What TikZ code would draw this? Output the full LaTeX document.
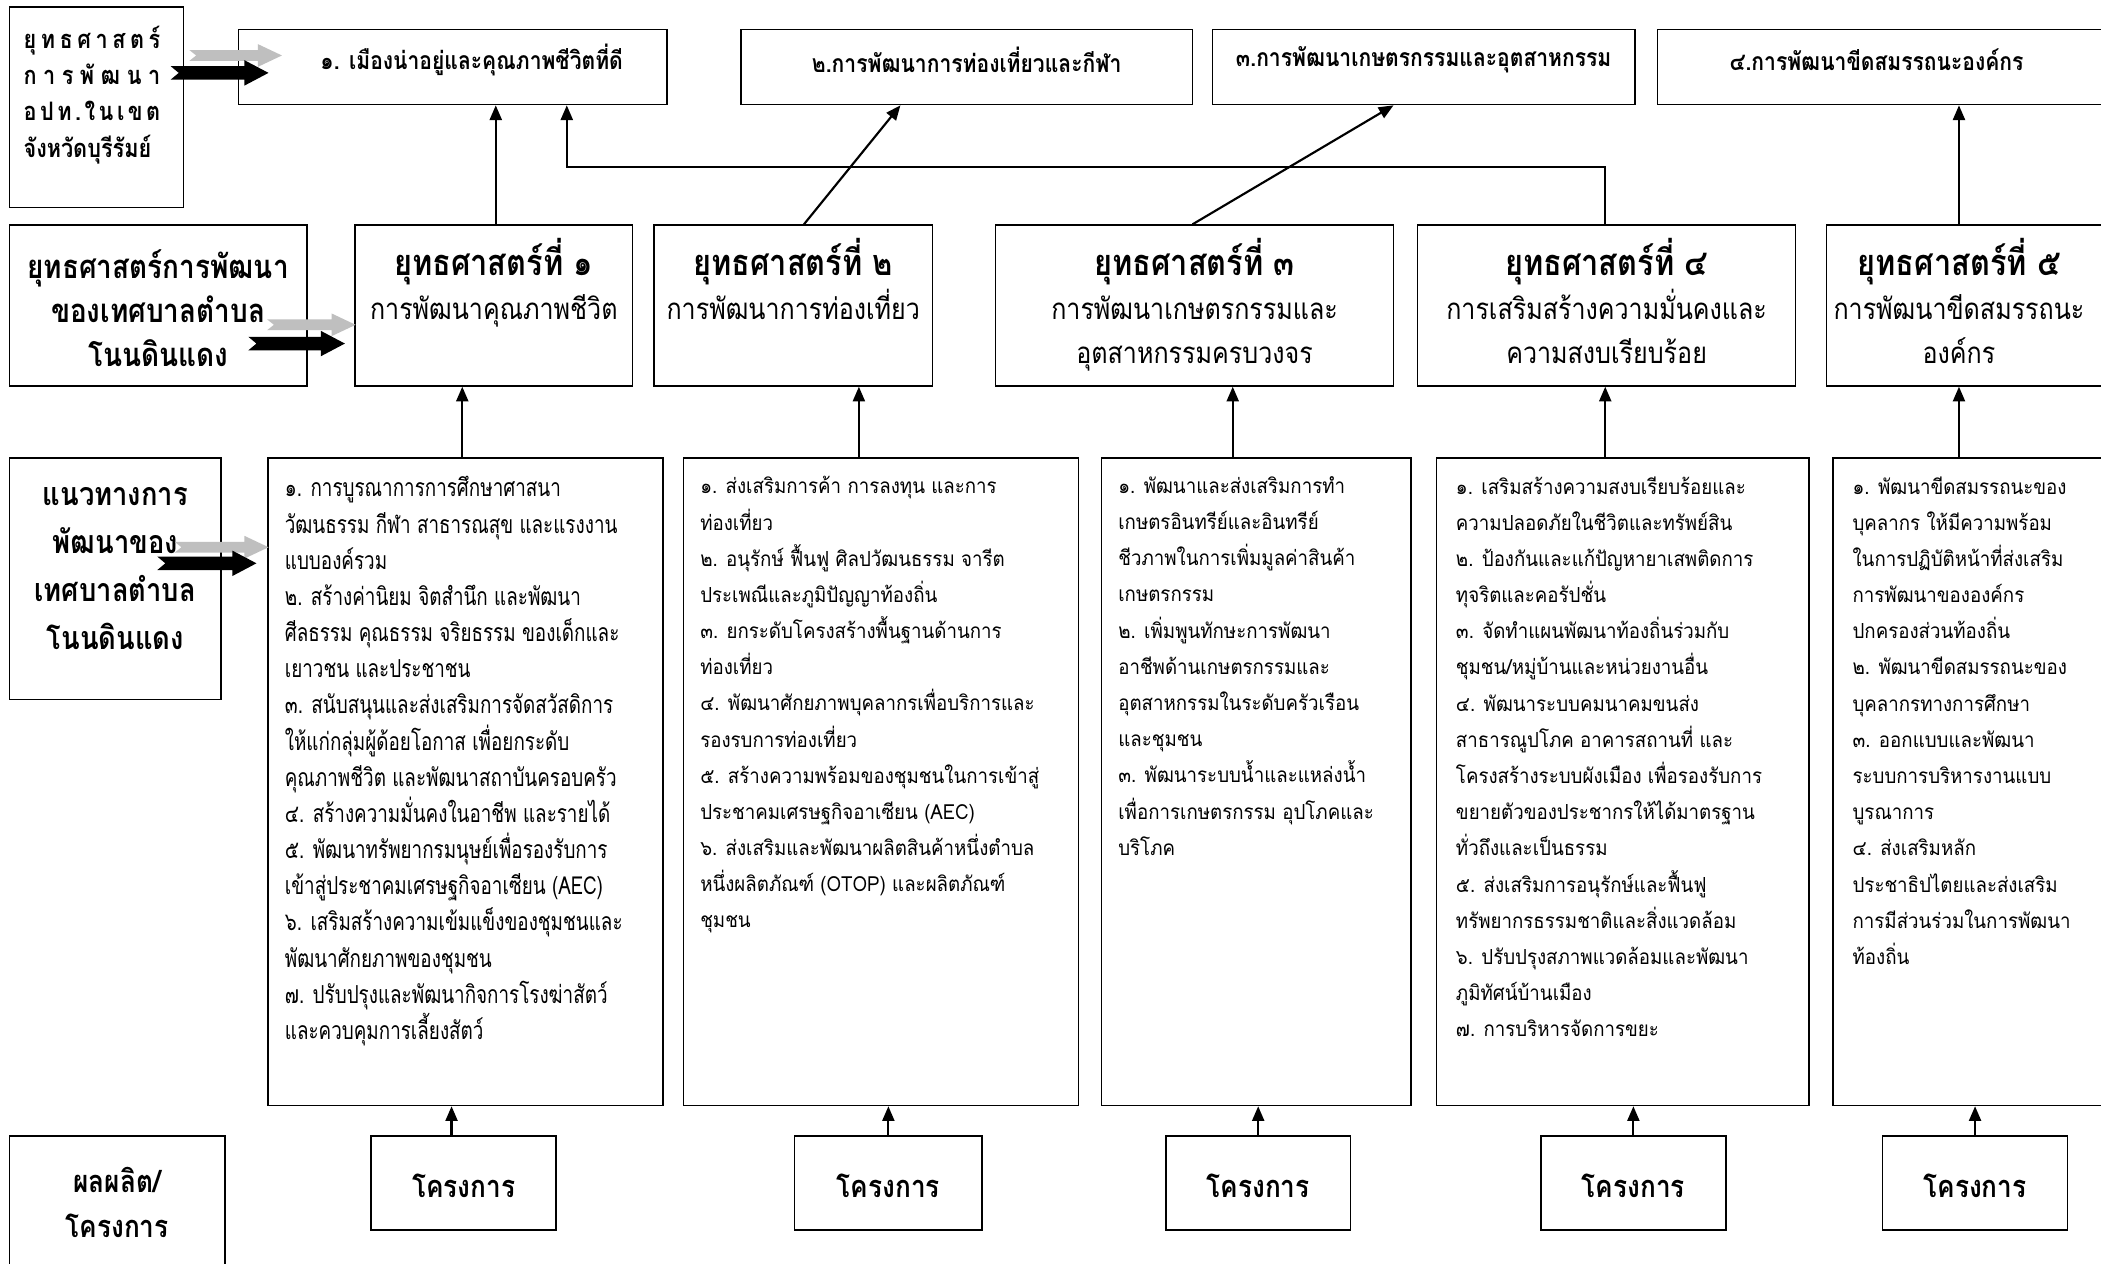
\documentclass[tikz,border=0pt]{standalone}
\usepackage{fontspec}
\usetikzlibrary{arrows.meta,calc}
\newfontfamily\thr[Script=Thai,FakeStretch=0.9]{Loma}
\newfontfamily\thc[Script=Thai,FakeStretch=0.85]{Loma}
\newfontfamily\thn[Script=Thai,FakeStretch=0.76]{Loma}
\definecolor{arrowgray}{RGB}{191,191,191}
\tikzset{
  box/.style={draw, line width=1.2pt, inner sep=0pt},
  conn/.style={line width=1.6pt, -{Triangle[length=11pt,width=9pt]}},
  txt/.style={inner sep=0pt},
  listtxt/.style={txt, anchor=north west, align=left, font={\thr\fontsize{15.5}{27}\selectfont}},
  stitle/.style={txt, anchor=north, align=center, font={\thc\fontsize{22}{33}\selectfont}},
  goaltxt/.style={txt, font={\thc\bfseries\fontsize{18.5}{22}\selectfont}},
  projtxt/.style={txt, font={\thc\bfseries\fontsize{23}{30}\selectfont}},
}
\newcommand{\boxnode}[5]{\node[box, minimum width={#4-#2}, minimum height={#5-#3}] (#1) at ({(#2+#4)/2},{(#3+#5)/2}) {};}
\newcommand{\blockarrow}[7]{%
  \fill[#1] #2 -- ++(-#6,-#5) -- ++(0,{#5-#4}) -- ++({#6-#3},0) -- ++(#7,#4) -- ++(-#7,#4) -- ++({#3-#6},0) -- ++(0,{#5-#4}) -- cycle;}
\newcommand{\sttl}[1]{{\bfseries\fontsize{27}{33}\selectfont #1}}
\begin{document}
\begin{tikzpicture}[x=1pt,y=-1pt]
\useasboundingbox (0,0) rectangle (1568,943);
\fill[white] (0,0) rectangle (1568,943);

% boxes
\boxnode{A1}{7}{5}{137}{155}
\boxnode{G1}{178}{22}{498}{78}
\boxnode{G2}{553}{22}{890}{78}
\boxnode{G3}{905}{22}{1220}{78}
\boxnode{G4}{1237}{22}{1580}{78}
\boxnode{A2}{7}{168}{229}{288}
\boxnode{S1}{265}{168}{472}{288}
\boxnode{S2}{488}{168}{696}{288}
\boxnode{S3}{743}{168}{1040}{288}
\boxnode{S4}{1058}{168}{1340}{288}
\boxnode{S5}{1363}{168}{1580}{288}
\boxnode{A3}{7}{342}{165}{522}
\boxnode{T1}{200}{342}{495}{825}
\boxnode{T2}{510}{342}{805}{825}
\boxnode{T3}{822}{342}{1053}{825}
\boxnode{T4}{1072}{342}{1350}{825}
\boxnode{T5}{1368}{342}{1580}{825}
\boxnode{A4}{7}{848}{168}{960}
\boxnode{P1}{277}{848}{415}{918}
\boxnode{P2}{593}{848}{733}{918}
\boxnode{P3}{870}{848}{1008}{918}
\boxnode{P4}{1150}{848}{1288}{918}
\boxnode{P5}{1405}{848}{1543}{918}

% label texts
\node[txt, anchor=north west, align=left, font={\thc\bfseries\fontsize{19}{27}\selectfont}] (A1t) at ($(A1.north west)+(11,15)$)
 {\makebox[102pt][s]{ยุ\hfill ท\hfill ธ\hfill ศ\hfill า\hfill ส\hfill ต\hfill ร์}\\
  \makebox[102pt][s]{ก\hfill า\hfill ร\hfill พั\hfill ฒ\hfill น\hfill า}\\
  \makebox[102pt][s]{อ\hfill ป\hfill ท\hfill .\hfill ใ\hfill น\hfill เ\hfill ข\hfill ต}\\
  จังหวัดบุรีรัมย์};
\node[txt, align=center, font={\thc\bfseries\fontsize{24.5}{33}\selectfont}] (A2t) at ($(A2.center)+(0,2)$)
 {ยุทธศาสตร์การพัฒนา\\ของเทศบาลตำบล\\โนนดินแดง};
\node[txt, align=center, font={\thc\bfseries\fontsize{24}{35.7}\selectfont}] (A3t) at ($(A3.center)+(0,-7.5)$)
 {แนวทางการ\\พัฒนาของ\\เทศบาลตำบล\\โนนดินแดง};
\node[txt, align=center, font={\thc\bfseries\fontsize{23}{33}\selectfont}] (A4t) at ($(A4.north)+(0,50)$)
 {ผลผลิต/\\โครงการ};

% goal texts
\node[goaltxt] (G1t) at ($(G1.north)+(14,23)$) {๑. เมืองน่าอยู่และคุณภาพชีวิตที่ดี};
\node[goaltxt] (G2t) at ($(G2.north)+(0,23)$) {๒.การพัฒนาการท่องเที่ยวและกีฬา};
\node[goaltxt] (G3t) at ($(G3.north)+(0,23)$) {๓.การพัฒนาเกษตรกรรมและอุตสาหกรรม};
\node[goaltxt] (G4t) at ($(G4.north)+(-8,23)$) {๔.การพัฒนาขีดสมรรถนะองค์กร};

% strategy texts
\node[stitle] (S1t) at ($(S1.north)+(0,10)$) {\sttl{ยุทธศาสตร์ที่ ๑}\\การพัฒนาคุณภาพชีวิต};
\node[stitle] (S2t) at ($(S2.north)+(0,10)$) {\sttl{ยุทธศาสตร์ที่ ๒}\\การพัฒนาการท่องเที่ยว};
\node[stitle] (S3t) at ($(S3.north)+(0,10)$) {\sttl{ยุทธศาสตร์ที่ ๓}\\การพัฒนาเกษตรกรรมและ\\อุตสาหกรรมครบวงจร};
\node[stitle] (S4t) at ($(S4.north)+(0,10)$) {\sttl{ยุทธศาสตร์ที่ ๔}\\การเสริมสร้างความมั่นคงและ\\ความสงบเรียบร้อย};
\node[stitle] (S5t) at ($(S5.north)+(-9.5,10)$) {\sttl{ยุทธศาสตร์ที่ ๕}\\การพัฒนาขีดสมรรถนะ\\องค์กร};

% guideline texts
\node[listtxt, font={\thn\fontsize{18.5}{27}\selectfont}] (T1t) at ($(T1.north west)+(13,14)$) {%
๑. การบูรณาการการศึกษาศาสนา\\
วัฒนธรรม กีฬา สาธารณสุข และแรงงาน\\
แบบองค์รวม\\
๒. สร้างค่านิยม จิตสำนึก และพัฒนา\\
ศีลธรรม คุณธรรม จริยธรรม ของเด็กและ\\
เยาวชน และประชาชน\\
๓. สนับสนุนและส่งเสริมการจัดสวัสดิการ\\
ให้แก่กลุ่มผู้ด้อยโอกาส เพื่อยกระดับ\\
คุณภาพชีวิต และพัฒนาสถาบันครอบครัว\\
๔. สร้างความมั่นคงในอาชีพ และรายได้\\
๕. พัฒนาทรัพยากรมนุษย์เพื่อรองรับการ\\
เข้าสู่ประชาคมเศรษฐกิจอาเซียน (AEC)\\
๖. เสริมสร้างความเข้มแข็งของชุมชนและ\\
พัฒนาศักยภาพของชุมชน\\
๗. ปรับปรุงและพัฒนากิจการโรงฆ่าสัตว์\\
และควบคุมการเลี้ยงสัตว์};
\node[listtxt] (T2t) at ($(T2.north west)+(13,14)$) {%
๑. ส่งเสริมการค้า การลงทุน และการ\\
ท่องเที่ยว\\
๒. อนุรักษ์ ฟื้นฟู ศิลปวัฒนธรรม จารีต\\
ประเพณีและภูมิปัญญาท้องถิ่น\\
๓. ยกระดับโครงสร้างพื้นฐานด้านการ\\
ท่องเที่ยว\\
๔. พัฒนาศักยภาพบุคลากรเพื่อบริการและ\\
รองรบการท่องเที่ยว\\
๕. สร้างความพร้อมของชุมชนในการเข้าสู่\\
ประชาคมเศรษฐกิจอาเซียน (AEC)\\
๖. ส่งเสริมและพัฒนาผลิตสินค้าหนึ่งตำบล\\
หนึ่งผลิตภัณฑ์ (OTOP) และผลิตภัณฑ์\\
ชุมชน};
\node[listtxt] (T3t) at ($(T3.north west)+(13,14)$) {%
๑. พัฒนาและส่งเสริมการทำ\\
เกษตรอินทรีย์และอินทรีย์\\
ชีวภาพในการเพิ่มมูลค่าสินค้า\\
เกษตรกรรม\\
๒. เพิ่มพูนทักษะการพัฒนา\\
อาชีพด้านเกษตรกรรมและ\\
อุตสาหกรรมในระดับครัวเรือน\\
และชุมชน\\
๓. พัฒนาระบบน้ำและแหล่งน้ำ\\
เพื่อการเกษตรกรรม อุปโภคและ\\
บริโภค};
\node[listtxt] (T4t) at ($(T4.north west)+(15,14)$) {%
๑. เสริมสร้างความสงบเรียบร้อยและ\\
ความปลอดภัยในชีวิตและทรัพย์สิน\\
๒. ป้องกันและแก้ปัญหายาเสพติดการ\\
ทุจริตและคอรัปชั่น\\
๓. จัดทำแผนพัฒนาท้องถิ่นร่วมกับ\\
ชุมชน/หมู่บ้านและหน่วยงานอื่น\\
๔. พัฒนาระบบคมนาคมขนส่ง\\
สาธารณูปโภค อาคารสถานที่ และ\\
โครงสร้างระบบผังเมือง เพื่อรองรับการ\\
ขยายตัวของประชากรให้ได้มาตรฐาน\\
ทั่วถึงและเป็นธรรม\\
๕. ส่งเสริมการอนุรักษ์และฟื้นฟู\\
ทรัพยากรธรรมชาติและสิ่งแวดล้อม\\
๖. ปรับปรุงสภาพแวดล้อมและพัฒนา\\
ภูมิทัศน์บ้านเมือง\\
๗. การบริหารจัดการขยะ};
\node[listtxt] (T5t) at ($(T5.north west)+(15,14)$) {%
๑. พัฒนาขีดสมรรถนะของ\\
บุคลากร ให้มีความพร้อม\\
ในการปฏิบัติหน้าที่ส่งเสริม\\
การพัฒนาขององค์กร\\
ปกครองส่วนท้องถิ่น\\
๒. พัฒนาขีดสมรรถนะของ\\
บุคลากรทางการศึกษา\\
๓. ออกแบบและพัฒนา\\
ระบบการบริหารงานแบบ\\
บูรณาการ\\
๔. ส่งเสริมหลัก\\
ประชาธิปไตยและส่งเสริม\\
การมีส่วนร่วมในการพัฒนา\\
ท้องถิ่น};

% project texts
\foreach \p in {P1,P2,P3,P4,P5}{\node[projtxt] (\p t) at ($(\p.center)+(0,2)$) {โครงการ};}

% connectors
\draw[conn] ([xshift=1.5pt]S1.north) -- ([xshift=32pt]G1.south);
\draw[conn] ([xshift=-1pt]S4.north) -- ++(0,-43) -| ([xshift=85pt]G1.south);
\draw[conn] ([xshift=8pt]S2.north) -- ([xshift=-49.5pt]G2.south);
\draw[conn] ([xshift=-1.5pt]S3.north) -- ([xshift=-22.5pt]G3.south);
\draw[conn] ([xshift=-9.5pt]S5.north) -- ([xshift=53.5pt]G4.south);

\draw[conn] ([xshift=-2.5pt]T1.north) -- ([xshift=-23.5pt]S1.south);
\draw[conn] ([xshift=-16.5pt]T2.north) -- ([xshift=49pt]S2.south);
\draw[conn] ([xshift=-17.5pt]T3.north) -- ([xshift=28.5pt]S3.south);
\draw[conn] ([xshift=-13pt]T4.north) -- ([xshift=-1pt]S4.south);
\draw[conn] ([xshift=-12pt]T5.north) -- ([xshift=-9.5pt]S5.south);

\draw[conn] ([xshift=-9pt]P1.north) -- ([xshift=-10.5pt]T1.south);
\draw[conn] ([xshift=0pt]P2.north) -- ([xshift=5.5pt]T2.south);
\draw[conn] ([xshift=0pt]P3.north) -- ([xshift=1.5pt]T3.south);
\draw[conn] ([xshift=0pt]P4.north) -- ([xshift=8pt]T4.south);
\draw[conn] ([xshift=0pt]P5.north) -- ([xshift=0pt]T5.south);

% block arrows
\blockarrow{arrowgray}{($(G1.north west)+(33,20)$)}{69}{4}{8.5}{18}{5}
\blockarrow{black}{($(G1.north west)+(23,33)$)}{73}{5}{9.5}{18}{6}
\blockarrow{arrowgray}{($(S1.north west)+(1,75)$)}{66}{4}{8.5}{18}{5}
\blockarrow{black}{($(S1.north west)+(-7,89)$)}{72}{5}{9.5}{18}{6}
\blockarrow{arrowgray}{($(T1.north west)+(1,67)$)}{70}{4}{8.5}{18}{5}
\blockarrow{black}{($(T1.north west)+(-8,79)$)}{74}{5}{9.5}{18}{6}
\end{tikzpicture}
\end{document}
